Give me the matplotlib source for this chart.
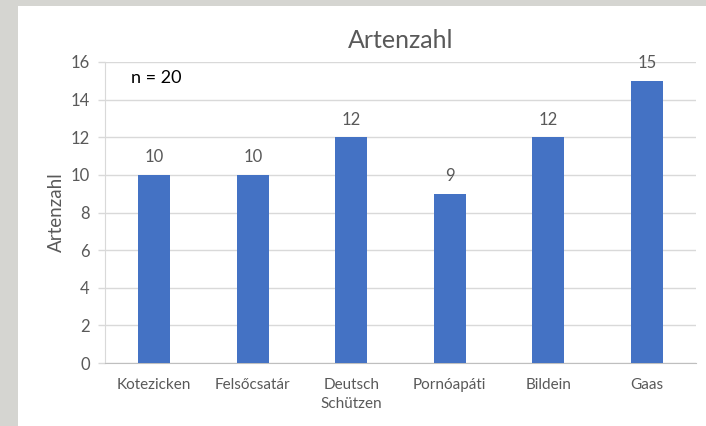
import matplotlib.pyplot as plt
from matplotlib.patches import Rectangle

# Data
orte = ['Kotezicken', 'Felsőcsatár', 'Deutsch\nSchützen', 'Pornóapáti', 'Bildein', 'Gaas']
artenzahl = [10, 10, 12, 9, 12, 15]
y_ticks = [0, 2, 4, 6, 8, 10, 12, 14, 16]

plt.rcParams['font.family'] = ['Lato', 'DejaVu Sans']

text_grey = '#595959'
grid_grey = '#d9d9d9'
bar_blue = '#4472C4'

fig = plt.figure(figsize=(7.06, 4.26), dpi=100)
fig.patch.set_facecolor('#d5d5d1')

# white chart area on the grey background
fig.patches.append(Rectangle((18 / 706, 0), 1 - 18 / 706, 1 - 6 / 426,
                             transform=fig.transFigure, facecolor='white',
                             edgecolor='none', zorder=-10))

ax = fig.add_axes([105 / 706, 1 - 363 / 426, 591 / 706, 301 / 426])
ax.set_facecolor('white')

x = range(len(orte))
bars = ax.bar(x, artenzahl, width=0.32, color=bar_blue, zorder=3)

for xi, v in zip(x, artenzahl):
    ax.annotate(str(v), (xi, v), xytext=(0, 7), textcoords='offset points',
                ha='center', va='bottom', fontsize=12, color=text_grey)

ax.set_xlim(-0.5, len(orte) - 0.5)
ax.set_ylim(0, 16)
ax.set_yticks(y_ticks)
ax.set_xticks(list(x))
ax.set_xticklabels(orte, fontsize=11, color=text_grey, linespacing=1.45)
ax.tick_params(axis='y', labelsize=12, labelcolor=text_grey, color=grid_grey, length=5, width=1, pad=6)
ax.tick_params(axis='x', length=0, pad=11)

ax.grid(axis='y', color=grid_grey, linewidth=1, zorder=0)
ax.set_axisbelow(True)

for side in ['top', 'right']:
    ax.spines[side].set_visible(False)
ax.spines['left'].set_color(grid_grey)
ax.spines['bottom'].set_color('#bfbfbf')

ax.set_ylabel('Artenzahl', fontsize=13.5, color=text_grey, labelpad=4)
ax.set_title('Artenzahl', fontsize=18, color=text_grey, pad=10)

ax.text(0.044, 0.947, 'n = 20', transform=ax.transAxes, fontsize=13,
        color='black', ha='left', va='center')

plt.savefig('out.png', dpi=100, facecolor=fig.get_facecolor())
